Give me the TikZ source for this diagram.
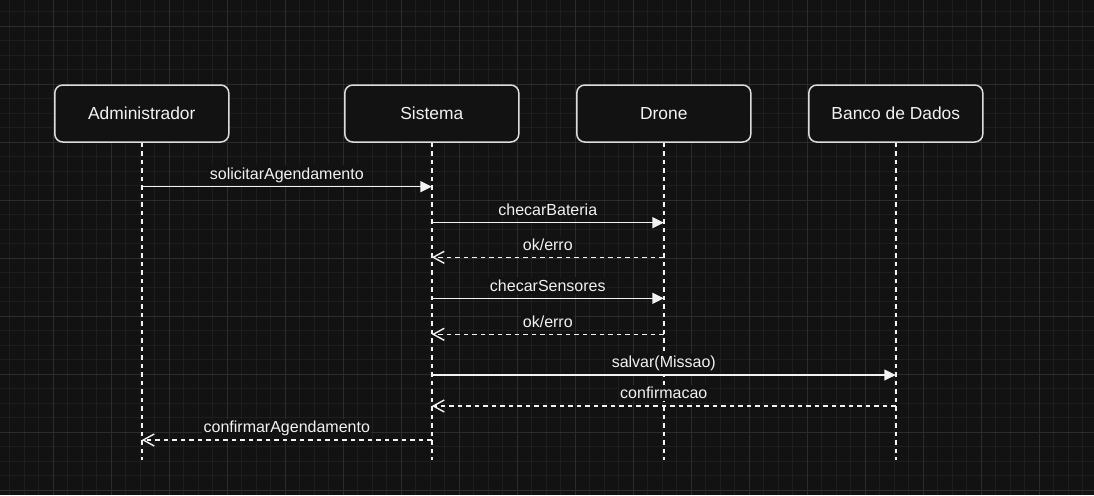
\documentclass[tikz,border=0pt]{standalone}
\usepackage{fontspec}
\setmainfont{Liberation Sans}
\usetikzlibrary{arrows.meta}
\definecolor{bgc}{HTML}{121212}
\definecolor{gminor}{HTML}{1E1E1E}
\definecolor{gmajor}{HTML}{2C2C2C}
\definecolor{fg}{HTML}{F2F2F2}
\definecolor{boxstroke}{HTML}{DDDDDD}
\begin{document}
\begin{tikzpicture}[x=1pt,y=-1pt,
  actor/.style={draw=boxstroke, fill=bgc, line width=1.5pt, rounded corners=8pt,
    minimum width=174pt, minimum height=57pt, text=fg,
    font=\fontsize{17.4}{20}\selectfont, inner sep=0pt},
  lifeline/.style={draw=fg, line width=1.4pt, dash pattern=on 4.5pt off 4pt},
  call/.style={draw=fg, line width=1.4pt, -{Triangle[length=11.5pt,width=11pt]}},
  reply/.style={draw=fg, line width=1.4pt, dash pattern=on 4.5pt off 4pt,
    -{Straight Barb[length=11pt,width=12pt]}},
  msg/.style={text=fg, fill=bgc, font=\fontsize{16}{19}\selectfont, anchor=base,
    inner xsep=1.5pt, inner ysep=2.5pt}]
\useasboundingbox (0,0) rectangle (1094,495);
\fill[bgc] (0,0) rectangle (1094,495);
\begin{scope}
\clip (0,0) rectangle (1094,495);
\foreach \k in {-4,...,72} {
  \draw[gminor, line width=0.9pt] ({53.3+14.5*\k},0) -- ({53.3+14.5*\k},495);
}
\foreach \k in {-2,...,33} {
  \draw[gminor, line width=0.9pt] (0,{26+14.5*\k}) -- (1094,{26+14.5*\k});
}
\foreach \k in {-1,...,18} {
  \draw[gmajor, line width=0.9pt] ({53.3+58*\k},0) -- ({53.3+58*\k},495);
}
\foreach \k in {-1,...,8} {
  \draw[gmajor, line width=0.9pt] (0,{26+58*\k}) -- (1094,{26+58*\k});
}
\end{scope}

% actors
\node[actor] (adm) at (141.8,113.5) {Administrador};
\node[actor] (sis) at (431.8,113.5) {Sistema};
\node[actor] (dro) at (663.8,113.5) {Drone};
\node[actor] (bd)  at (895.8,113.5) {Banco de Dados};

% lifeline ends
\coordinate (admE) at (141.8,460);
\coordinate (sisE) at (431.8,460);
\coordinate (droE) at (663.8,460);
\coordinate (bdE)  at (895.8,460);
\draw[lifeline] (adm.south) -- (admE);
\draw[lifeline] (sis.south) -- (sisE);
\draw[lifeline] (dro.south) -- (droE);
\draw[lifeline] (bd.south) -- (bdE);

% messages
\draw[call]  (adm |- 0,186.7) -- (sis |- 0,186.7);
\node[msg] (l1) at (286.8,179.4) {solicitarAgendamento};
\draw[call]  (sis |- 0,222.7) -- (dro |- 0,222.7);
\node[msg] (l2) at (547.8,215.4) {checarBateria};
\draw[reply] (dro |- 0,257.3) -- (sis |- 0,257.3);
\node[msg] (l3) at (547.8,250) {ok/erro};
\draw[call]  (sis |- 0,298.3) -- (dro |- 0,298.3);
\node[msg] (l4) at (547.8,291) {checarSensores};
\draw[reply] (dro |- 0,334.3) -- (sis |- 0,334.3);
\node[msg] (l5) at (547.8,327) {ok/erro};
\draw[call]  (sis |- 0,375) -- (bd |- 0,375);
\node[msg] (l6) at (663.8,367.7) {salvar(Missao)};
\draw[reply] (bd |- 0,406) -- (sis |- 0,406);
\node[msg] (l7) at (663.8,398.7) {confirmacao};
\draw[reply] (sis |- 0,440) -- (adm |- 0,440);
\node[msg] (l8) at (286.8,432.7) {confirmarAgendamento};
\end{tikzpicture}
\end{document}
